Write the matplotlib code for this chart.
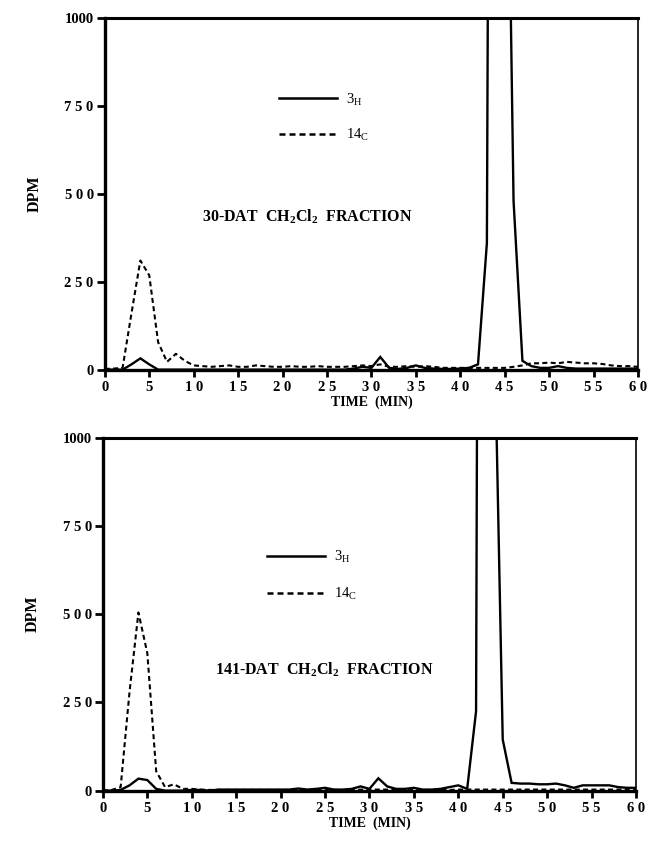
"""Two-panel radio-HPLC chromatogram (3H / 14C, DPM vs. time) for CH2Cl2 fractions."""
import matplotlib
matplotlib.use("Agg")
import matplotlib.pyplot as plt

plt.rcParams["font.family"] = ["Liberation Serif", "DejaVu Serif"]
plt.rcParams["mathtext.fontset"] = "custom"
plt.rcParams["mathtext.rm"] = "Liberation Serif"
plt.rcParams["mathtext.bf"] = "Liberation Serif:bold"

# --- data --------------------------------------------------------------------
time_min = [0, 1, 2, 3, 4, 5, 6, 7, 8, 9, 10, 11, 12, 13, 14, 15, 16, 17, 18, 19,
            20, 21, 22, 23, 24, 25, 26, 27, 28, 29, 30, 31, 32, 33, 34, 35, 36, 37,
            38, 39, 40, 41, 42, 43, 44, 45, 46, 47, 48, 49, 50, 51, 52, 53, 54, 55,
            56, 57, 58, 59, 60]

# 30-DAT fraction
h3_30dat = [0, 0, 0, 15, 32, 15, 0, 0, 0, 0, 0, 0, 0, 0, 0, 0, 0, 0, 0, 0,
            0, 0, 0, 0, 0, 0, 0, 0, 3, 8, 5, 36, 5, 2, 5, 12, 5, 3,
            2, 2, 3, 5, 15, 360, 6800, 2200, 480, 25, 10, 5, 5, 10, 5, 3, 3, 3,
            3, 3, 3, 3, 3]
c14_30dat = [2, 3, 5, 160, 310, 268, 78, 22, 45, 25, 12, 10, 8, 10, 12, 8, 8, 12, 10, 8,
             8, 10, 8, 8, 10, 8, 8, 8, 10, 12, 10, 15, 8, 8, 10, 8, 10, 8,
             5, 5, 5, 5, 5, 5, 5, 5, 8, 12, 18, 18, 20, 18, 22, 20, 18, 18,
             16, 12, 10, 10, 8]

# 141-DAT fraction
h3_141dat = [0, 0, 2, 15, 34, 30, 5, 0, 0, 0, 2, 2, 0, 3, 3, 3, 3, 3, 3, 3,
             3, 3, 6, 3, 5, 8, 3, 3, 5, 12, 5, 35, 12, 5, 5, 8, 3, 3,
             5, 10, 15, 5, 225, 8000, 1400, 145, 22, 20, 20, 18, 18, 20, 15, 8, 15, 15,
             15, 15, 10, 8, 8]
c14_141dat = [0, 2, 10, 280, 505, 390, 55, 10, 18, 5, 5, 3, 2, 2, 2, 2, 2, 2, 2, 2,
              2, 2, 3, 2, 2, 3, 2, 2, 2, 3, 3, 3, 3, 2, 2, 3, 2, 2,
              2, 2, 3, 3, 3, 3, 3, 3, 3, 3, 3, 3, 3, 3, 3, 3, 3, 3,
              3, 3, 3, 3, 3]

panel_titles = ["30-DAT", "141-DAT"]
x_ticks = [0, 5, 10, 15, 20, 25, 30, 35, 40, 45, 50, 55, 60]
y_ticks = [0, 250, 500, 750, 1000]


def spaced(v):
    """Letter-spaced tick label like the typeset original ("1 0", "7 5 0")."""
    if v == 1000:
        return str(v)
    return " ".join(str(v))


def draw_panel(ax, h3, c14, tag, legend_anchor, spacing, text_xy):
    ax.plot(time_min, h3, color="black", lw=1.7, solid_joinstyle="miter",
            label=r"3$\mathregular{_{H}}$")
    ax.plot(time_min, c14, color="black", lw=1.5, dashes=(2.4, 1.6),
            label=r"14$\mathregular{_{C}}$")
    ax.set_xlim(0, 60)
    ax.set_ylim(0, 1000)

    for side, lw in (("left", 2.4), ("bottom", 2.4), ("top", 2.2), ("right", 1.2)):
        ax.spines[side].set_linewidth(lw)
    ax.set_xticks(x_ticks)
    ax.set_xticklabels([spaced(v) for v in x_ticks], fontweight="bold", fontsize=10.5)
    ax.set_yticks(y_ticks)
    ax.set_yticklabels([spaced(v) for v in y_ticks], fontweight="bold", fontsize=10.5)
    ax.tick_params(axis="x", direction="out", length=5, width=2, pad=3)
    ax.tick_params(axis="y", direction="out", length=6, width=2, pad=2)
    ax.set_xlabel("TIME  (MIN)", fontweight="bold", fontsize=10, labelpad=1)
    ax.set_ylabel("DPM", fontweight="bold", fontsize=11.5, labelpad=16)

    leg = ax.legend(loc="upper left", bbox_to_anchor=legend_anchor, frameon=False,
                    handlelength=4.0, handletextpad=0.6, labelspacing=spacing,
                    borderpad=0, borderaxespad=0, fontsize=10.5)
    for line in leg.get_lines():
        line.set_linewidth(1.8)

    ax.text(text_xy[0], text_xy[1],
            tag + r"  CH$\mathbf{_2}$Cl$\mathbf{_2}$  FRACTION",
            fontweight="bold", fontsize=11.5, va="center", ha="left")


fig = plt.figure(figsize=(6.47, 8.42), dpi=100)
ax_top = fig.add_axes([0.162, 0.561, 0.824, 0.418])
ax_bot = fig.add_axes([0.159, 0.061, 0.824, 0.419])

draw_panel(ax_top, h3_30dat, c14_30dat, panel_titles[0], (0.326, 0.79), 1.3, (10.9, 435))
draw_panel(ax_bot, h3_141dat, c14_141dat, panel_titles[1], (0.308, 0.686), 1.45, (12.6, 343))

fig.savefig("out.png", dpi=100)
